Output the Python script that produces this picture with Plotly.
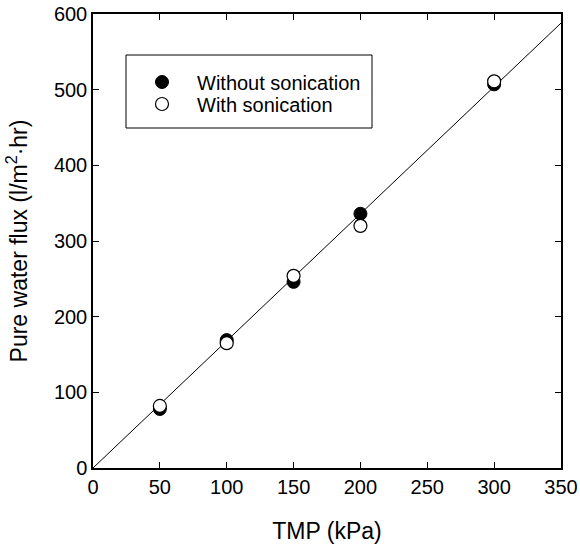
import plotly.graph_objects as go

tmp = [50, 100, 150, 200, 300]
flux_without = [78, 169, 246, 336, 507]
flux_with = [82, 165, 254, 320, 511]
fit_x = [0, 350]
fit_y = [0, 588]
x_ticks = [0, 50, 100, 150, 200, 250, 300, 350]
y_ticks = [0, 100, 200, 300, 400, 500, 600]

FONT = "Liberation Sans, Arial, Helvetica, sans-serif"
L, R, T, B = 93, 561, 14, 468
PW, PH = R - L, B - T

fig = go.Figure()
fig.add_trace(go.Scatter(x=fit_x, y=fit_y, mode="lines",
                         line=dict(color="black", width=1), showlegend=False,
                         hoverinfo="skip"))
fig.add_trace(go.Scatter(x=tmp, y=flux_without, mode="markers", name="Without sonication",
                         legend="legend",
                         marker=dict(symbol="circle", size=13, color="black",
                                     line=dict(color="black", width=1))))
fig.add_trace(go.Scatter(x=tmp, y=flux_with, mode="markers", name="With sonication",
                         legend="legend2",
                         marker=dict(symbol="circle", size=13, color="white",
                                     line=dict(color="black", width=1.2))))

axis_common = dict(showgrid=False, zeroline=False, showline=True, linecolor="black",
                   linewidth=1.5, mirror="ticks", ticks="inside", ticklen=6,
                   tickcolor="black", tickwidth=1, automargin=False,
                   tickfont=dict(family=FONT, size=20, color="black"))

fig.update_xaxes(range=[0, 350], tickvals=x_ticks,
                 title=dict(text="TMP (kPa)", font=dict(family=FONT, size=23, color="black"),
                            standoff=26),
                 **axis_common)
fig.update_yaxes(range=[0, 600], tickvals=y_ticks,
                 title=dict(text="Pure water flux (l/m<sup>2</sup>·hr)",
                            font=dict(family=FONT, size=23, color="black"), standoff=20),
                 **axis_common)

fig.add_shape(type="rect", xref="paper", yref="paper",
              x0=(126 - L) / PW, x1=(372 - L) / PW,
              y0=(B - 128) / PH, y1=(B - 55) / PH,
              line=dict(color="black", width=1), fillcolor="white", layer="below")

leg_common = dict(xanchor="left", yanchor="middle", bgcolor="rgba(0,0,0,0)", borderwidth=0,
                  font=dict(family=FONT, size=20, color="black"), itemwidth=60)
fig.update_layout(
    width=580, height=547,
    margin=dict(l=L, r=580 - R, t=T, b=547 - B),
    plot_bgcolor="white", paper_bgcolor="white",
    font=dict(family=FONT, color="black"),
    legend=dict(x=(127 - L) / PW, y=(B - 82) / PH, **leg_common),
    legend2=dict(x=(127 - L) / PW, y=(B - 104) / PH, **leg_common),
)

fig.write_html("out.html", config={"displayModeBar": False},
               post_script="document.body.style.margin='0';document.body.style.overflow='hidden';")
